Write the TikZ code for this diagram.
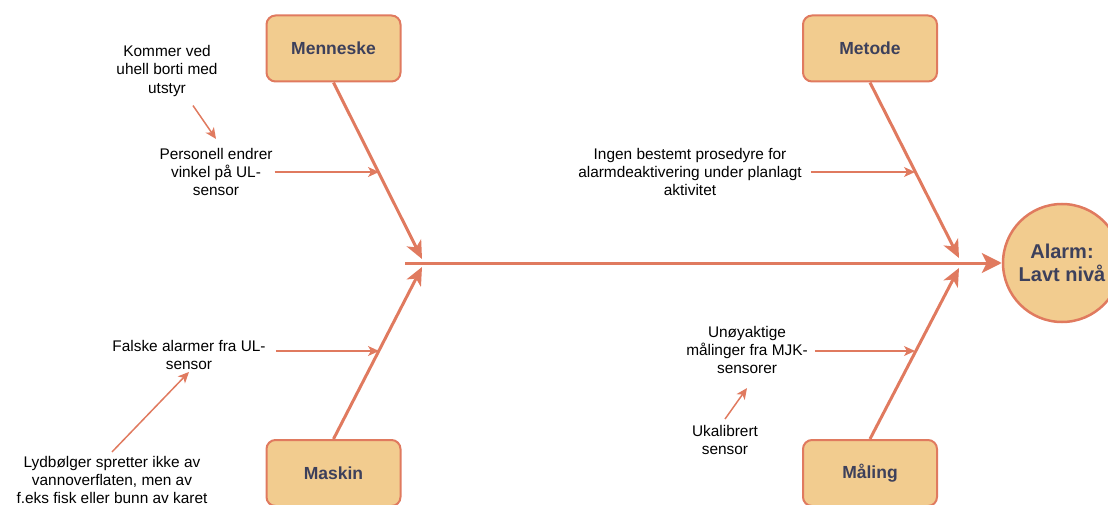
\documentclass[tikz,border=0pt]{standalone}
\usepackage{fontspec}
\setmainfont{Liberation Sans}
\usetikzlibrary{arrows.meta}

\definecolor{boxfill}{HTML}{F2CC8F}
\definecolor{boxline}{HTML}{E07A5F}
\definecolor{boxtext}{HTML}{3D405B}

\begin{document}
\begin{tikzpicture}[x=1pt, y=-1pt,
    cat/.style={draw=boxline, fill=boxfill, line width=2pt, rounded corners=9pt,
        minimum width=134pt, minimum height=66pt, text=boxtext,
        font=\fontsize{17.5}{21}\selectfont\bfseries},
    effect/.style={draw=boxline, fill=boxfill, line width=2.5pt, circle,
        minimum size=118pt, inner sep=0pt, text=boxtext, align=center,
        font=\fontsize{20}{22.5}\selectfont\bfseries},
    cause/.style={align=center, inner sep=2pt, font=\fontsize{15.4}{18.2}\selectfont},
    spine/.style={draw=boxline, line width=3pt, -{Stealth[length=20pt, width=20pt, inset=5pt]}},
    branch/.style={draw=boxline, line width=3pt, -{Stealth[length=18pt, width=16pt, inset=5pt]}},
    subarrow/.style={draw=boxline, line width=1.5pt, -{Stealth[length=11pt, width=10pt, inset=3pt]}}]

    \useasboundingbox (0,0) rectangle (1108,505);

    % Categories
    \node[cat] (Menneske) at (333.5,48.5) {Menneske};
    \node[cat] (Metode) at (870,48.5) {Metode};
    \node[cat] (Maskin) at (333.5,473) {Maskin};
    \node[cat] (Maling) at (870,473) {Måling};

    % Effect
    \node[effect] (Alarm) at (1062,263) {Alarm:\\Lavt nivå};

    % Spine
    \coordinate (Tail) at (405,263);
    \draw[spine] (Tail) -- (Alarm.west);

    % Branch ends on the spine
    \coordinate (Tip-Menneske) at (422,259);
    \coordinate (Tip-Maskin) at (422,267);
    \coordinate (Tip-Metode) at (959,258);
    \coordinate (Tip-Maling) at (959,268);

    % Branches
    \foreach \c/\a in {Menneske/south, Metode/south, Maskin/north, Maling/north}
    {
        \draw[branch] (\c.\a) -- (Tip-\c);
    }

    % Causes
    \node[cause] (Kommer) at (167,71) {Kommer ved\\uhell borti med\\utstyr};
    \node[cause] (Personell) at (216,172) {Personell endrer\\vinkel på UL-\\sensor};
    \node[cause] (Falske) at (189,355) {Falske alarmer fra UL-\\sensor};
    \node[cause] (Lydbolger) at (112,480) {Lydbølger spretter ikke av\\vannoverflaten, men av\\f.eks fisk eller bunn av karet};
    \node[cause] (Ingen) at (690,172) {Ingen bestemt prosedyre for\\alarmdeaktivering under planlagt\\aktivitet};
    \node[cause] (Unoyaktig) at (747,350) {Unøyaktige\\målinger fra MJK-\\sensorer};
    \node[cause] (Ukalibrert) at (725,440) {Ukalibrert\\sensor};

    % Points on the branches
    \coordinate (On-Personell) at (379,172);
    \coordinate (On-Falske) at (379,351);
    \coordinate (On-Ingen) at (915,172);
    \coordinate (On-Unoyaktig) at (915,351);

    % Cause arrows
    \draw[subarrow] (Personell.east) -- (On-Personell);
    \draw[subarrow] ([xshift=8pt, yshift=4pt]Falske.east) -- (On-Falske);
    \draw[subarrow] ([xshift=7pt]Ingen.east) -- (On-Ingen);
    \draw[subarrow] ([xshift=5pt, yshift=-1pt]Unoyaktig.east) -- (On-Unoyaktig);

    % Sub-causes
    \draw[subarrow] ([xshift=26pt, yshift=-7pt]Kommer.south) -- ([yshift=7pt]Personell.north);
    \draw[subarrow] ([yshift=2pt]Lydbolger.north) -- (Falske.south);
    \draw[subarrow] ([yshift=4pt]Ukalibrert.north) -- ([yshift=-12pt]Unoyaktig.south);
\end{tikzpicture}
\end{document}
